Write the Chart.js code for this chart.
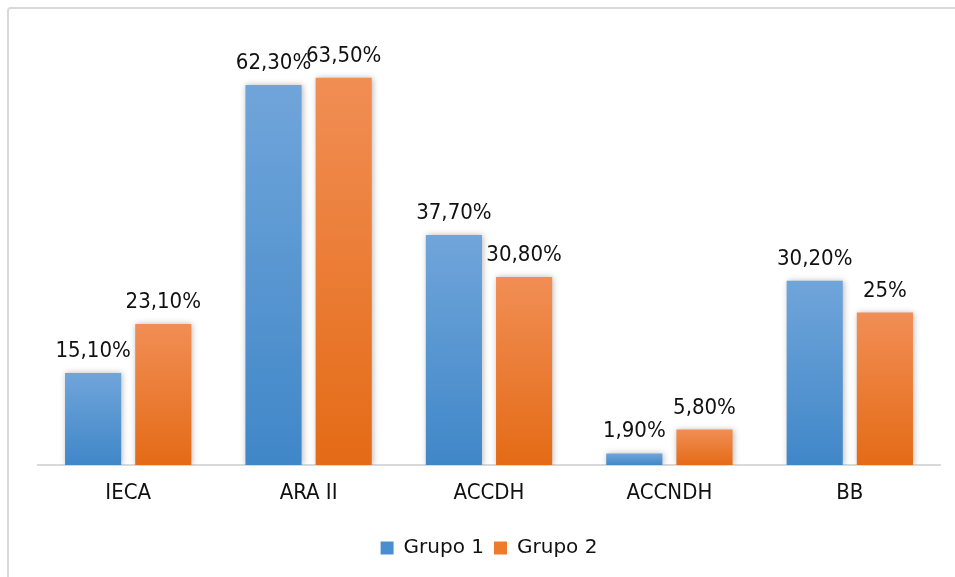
<!DOCTYPE html>
<html>
<head>
<meta charset="utf-8">
<script src="https://cdn.jsdelivr.net/npm/chart.js@4"></script>
<style>
  html, body { margin: 0; padding: 0; background: #fff; overflow: hidden; }
  #wrap { position: relative; width: 955px; height: 577px; overflow: hidden; }
  #frame {
    position: absolute; left: 7px; top: 7px; width: 1100px; height: 800px;
    border: 2px solid #d9d9d9; border-radius: 4px;
  }
  #chart { position: absolute; left: 0; top: 0; }
</style>
</head>
<body>
<div id="wrap">
  <div id="frame"></div>
  <canvas id="chart" width="955" height="577"></canvas>
</div>
<script>
// -------------------- DATA --------------------
const categories = ["IECA", "ARA II", "ACCDH", "ACCNDH", "BB"];
const grupo1 = [15.1, 62.3, 37.7, 1.9, 30.2];
const grupo2 = [23.1, 63.5, 30.8, 5.8, 25];
const grupo1Labels = ["15,10%", "62,30%", "37,70%", "1,90%", "30,20%"];
const grupo2Labels = ["23,10%", "63,50%", "30,80%", "5,80%", "25%"];

// top / bottom colours of each bar's vertical gradient
const blueStops = ["#70a5da", "#4087c8"];
const orangeStops = ["#f18e55", "#e46b16"];

function barGradient(stops) {
  return (c) => {
    const chart = c.chart;
    if (!chart.chartArea || c.raw === undefined) return stops[1];
    const y = chart.scales.y;
    const top = y.getPixelForValue(c.raw);
    const bottom = y.getPixelForValue(0);
    const g = chart.ctx.createLinearGradient(0, top, 0, bottom);
    g.addColorStop(0, stops[0]);
    g.addColorStop(1, stops[1]);
    return g;
  };
}

// soft shadow round the bars
const barShadow = {
  id: "barShadow",
  beforeDatasetsDraw(chart) {
    const ctx = chart.ctx;
    ctx.save();
    ctx.shadowColor = "rgba(0,0,0,0.28)";
    ctx.shadowBlur = 6;
    ctx.shadowOffsetX = 1;
    ctx.shadowOffsetY = 0;
  },
  afterDatasetsDraw(chart) {
    chart.ctx.restore();
  }
};

// percentage text over every bar
const valueLabels = {
  id: "valueLabels",
  afterDraw(chart) {
    const ctx = chart.ctx;
    ctx.save();
    ctx.font = "22px 'DejaVu Sans Condensed', 'DejaVu Sans', sans-serif";
    ctx.fillStyle = "#111";
    ctx.textAlign = "center";
    ctx.textBaseline = "alphabetic";
    chart.data.datasets.forEach((ds, i) => {
      chart.getDatasetMeta(i).data.forEach((bar, j) => {
        ctx.fillText(ds.valueText[j], bar.x, bar.y - 16);
      });
    });
    ctx.restore();
  }
};

new Chart(document.getElementById("chart"), {
  type: "bar",
  data: {
    labels: categories,
    datasets: [
      {
        label: "Grupo 1",
        data: grupo1,
        valueText: grupo1Labels,
        backgroundColor: barGradient(blueStops),
        legendColor: "#4a8ed2",
        borderWidth: 0
      },
      {
        label: "Grupo 2",
        data: grupo2,
        valueText: grupo2Labels,
        backgroundColor: barGradient(orangeStops),
        legendColor: "#ee7a2c",
        borderWidth: 0
      }
    ]
  },
  options: {
    responsive: false,
    animation: false,
    categoryPercentage: 0.778,
    barPercentage: 0.8,
    layout: { padding: { left: 38, right: 15, top: 38, bottom: 9 } },
    scales: {
      x: {
        grid: { display: false, drawTicks: false },
        border: { display: true, color: "#d9d9d9", width: 2 },
        ticks: {
          padding: 15,
          color: "#111",
          font: { family: "'DejaVu Sans Condensed', 'DejaVu Sans', sans-serif", size: 22 }
        },
        afterFit(scale) { scale.height = 63; }
      },
      y: {
        display: false,
        min: 0,
        max: 70
      }
    },
    plugins: {
      tooltip: { enabled: false },
      legend: {
        position: "bottom",
        labels: {
          boxWidth: 13,
          boxHeight: 13,
          padding: 10,
          color: "#111",
          font: { family: "'DejaVu Sans', sans-serif", size: 20 },
          generateLabels(chart) {
            return chart.data.datasets.map((ds, i) => ({
              text: ds.label,
              fillStyle: ds.legendColor,
              strokeStyle: ds.legendColor,
              lineWidth: 0,
              fontColor: "#111",
              datasetIndex: i
            }));
          }
        }
      }
    }
  },
  plugins: [barShadow, valueLabels]
});
</script>
</body>
</html>
